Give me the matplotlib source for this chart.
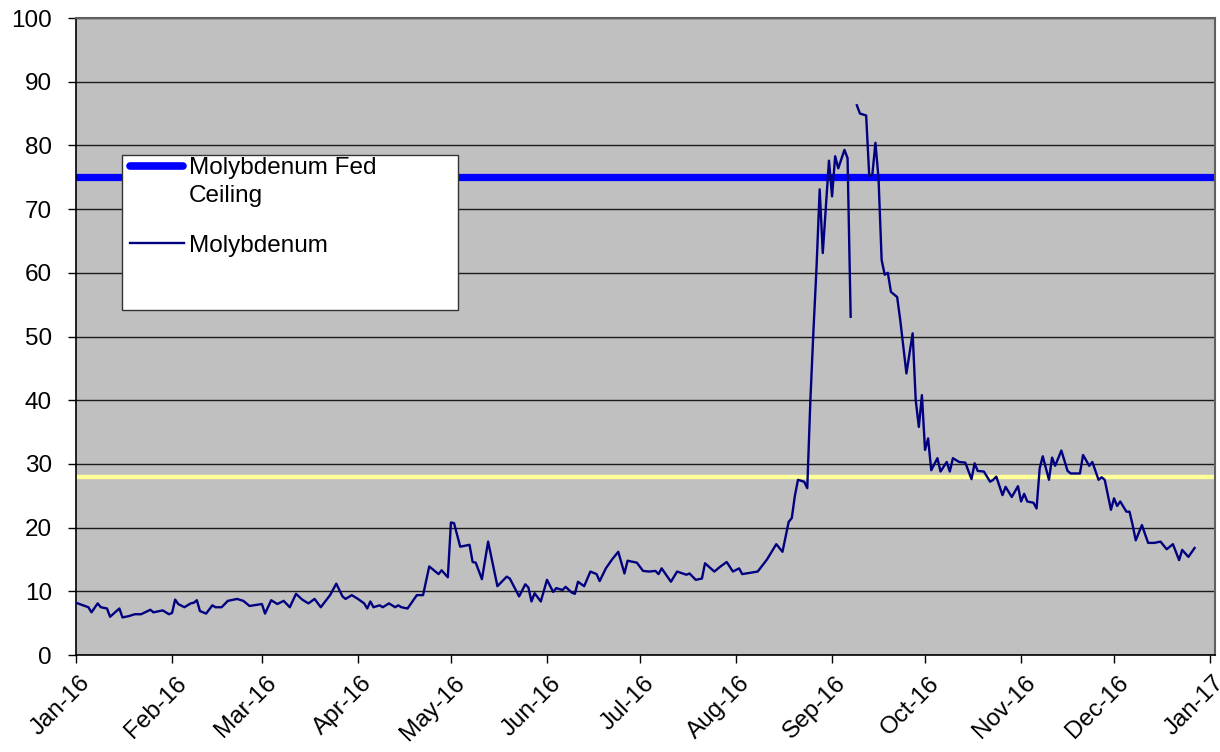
import matplotlib
matplotlib.use("Agg")
import matplotlib.pyplot as plt
import matplotlib.dates as mdates
import matplotlib.transforms as mtransforms
import numpy as np
import pandas as pd

plt.rcParams['font.family'] = ['Liberation Sans', 'DejaVu Sans']

# days since 2016-01-01 and molybdenum readings (NaN = gap in the record)
day_offset = [0, 2, 4, 5, 7, 8, 10, 11, 14, 15, 17, 19, 21, 24, 25, 28, 30, 31, 32, 33,
              35, 37, 38, 39, 40, 42, 44, 45, 47, 49, 52, 54, 56, 60, 61, 63, 65, 67, 69, 71,
              73, 75, 77, 79, 82, 84, 86, 87, 89, 91, 93, 94, 95, 96, 98, 99, 101, 103, 104, 105,
              107, 110, 112, 114, 117, 118, 120, 121, 122, 124, 127, 128, 129, 131, 133, 136, 139, 140, 143, 145,
              146, 147, 148, 150, 152, 154, 155, 157, 158, 160, 161, 162, 164, 166, 168, 169, 171, 173, 175, 177,
              178, 181, 183, 185, 187, 188, 189, 192, 194, 197, 198, 200, 202, 203, 206, 208, 210, 212, 214, 215,
              220, 223, 226, 228, 230, 231, 232, 233, 235, 236, 237, 238, 239, 240, 241, 243, 244, 245, 246, 248,
              249, 250, 251, 252, 253, 255, 256, 257, 258, 259, 260, 261, 262, 263, 265, 266, 267, 268, 270, 271,
              272, 273, 274, 275, 276, 278, 279, 281, 282, 283, 285, 287, 289, 290, 291, 293, 295, 296, 297, 299,
              300, 302, 304, 305, 306, 307, 309, 310, 311, 312, 314, 315, 316, 318, 320, 321, 324, 325, 327, 328,
              330, 331, 332, 334, 335, 336, 337, 339, 340, 341, 342, 344, 346, 348, 350, 352, 354, 356, 357, 359,
              361]
molybdenum = [8.2, 7.85, 7.5, 6.7, 8.1, 7.5, 7.3, 6.0, 7.3, 5.9, 6.1, 6.4, 6.4, 7.1, 6.7, 7.0, 6.4, 6.6, 8.7, 8.0,
              7.5, 8.1, 8.2, 8.6, 6.9, 6.5, 7.8, 7.5, 7.5, 8.5, 8.8, 8.5, 7.7, 8.0, 6.5, 8.6, 8.0, 8.5, 7.5, 9.6,
              8.7, 8.1, 8.8, 7.5, 9.4, 11.2, 9.2, 8.8, 9.4, 8.8, 8.1, 7.3, 8.4, 7.5, 7.8, 7.5, 8.1, 7.5, 7.8, 7.5,
              7.3, 9.4, 9.4, 13.9, 12.7, 13.3, 12.2, 20.8, 20.7, 17.0, 17.3, 14.6, 14.5, 11.9, 17.8, 10.8, 12.3, 12.0, 9.2, 11.1,
              10.6, 8.4, 9.7, 8.4, 11.8, 9.9, 10.5, 10.2, 10.7, 9.8, 9.6, 11.5, 10.8, 13.1, 12.7, 11.6, 13.6, 15.0, 16.2, 12.8,
              14.8, 14.5, 13.2, 13.1, 13.2, 12.7, 13.6, 11.5, 13.1, 12.6, 12.8, 11.8, 12.0, 14.4, 13.1, 13.9, 14.6, 13.1, 13.6, 12.7,
              13.1, 15.0, 17.4, 16.2, 20.9, 21.5, 25.0, 27.5, 27.2, 26.2, 40.0, 51.0, 61.0, 73.1, 63.1, 77.6, 72.0, 78.3, 76.4, 79.3,
              78.0, 53.1, np.nan, 86.3, 85.0, 84.7, 75.2, 75.4, 80.4, 74.8, 62.0, 59.7, 60.0, 57.0, 56.2, 52.6, 48.4, 44.2, 50.5, 40.0,
              35.8, 40.8, 32.2, 34.0, 29.0, 30.9, 28.8, 30.3, 28.8, 30.9, 30.3, 30.2, 27.6, 30.1, 28.9, 28.8, 27.2, 27.5, 28.0, 25.1,
              26.4, 24.8, 26.5, 24.1, 25.3, 24.1, 23.9, 23.0, 29.3, 31.2, 27.5, 31.0, 29.7, 32.1, 28.9, 28.5, 28.5, 31.4, 29.7, 30.3,
              27.5, 27.9, 27.5, 22.8, 24.6, 23.4, 24.1, 22.5, 22.5, 20.4, 18.0, 20.4, 17.6, 17.6, 17.8, 16.6, 17.4, 14.9, 16.5, 15.4,
              16.8]

fed_ceiling = 75
reference_level = 28

dates = pd.Timestamp("2016-01-01") + pd.to_timedelta(day_offset, unit="D")

FS = 17.5

fig = plt.figure(figsize=(12.2, 7.52), dpi=100)
ax = fig.add_axes([76 / 1220, 97 / 752, 1139 / 1220, 637 / 752])
ax.set_facecolor("#C0C0C0")

# horizontal reference lines
ax.axhline(reference_level, color="#FFFF99", lw=3.2, zorder=2)
ax.axhline(fed_ceiling, color="#0000FF", lw=5.2, zorder=2)

ax.plot(dates, molybdenum, color="#000080", lw=1.7, zorder=3)

ax.set_ylim(0, 100)
ax.set_yticks(np.arange(0, 101, 10))
ax.set_xlim(pd.Timestamp("2016-01-01"), pd.Timestamp("2017-01-02 14:00"))
ax.xaxis.set_major_locator(mdates.MonthLocator())
ax.xaxis.set_major_formatter(mdates.DateFormatter("%b-%y"))
ax.grid(axis="y", color="#1a1a1a", lw=1.0, zorder=1)
ax.set_axisbelow(True)

ax.tick_params(axis="both", direction="out", length=5.8, width=1, colors="black", labelsize=FS)
ax.tick_params(axis="y", pad=11.5)
ax.tick_params(axis="x", pad=6.5)
shift = mtransforms.ScaledTranslation(3 / 100, 0, fig.dpi_scale_trans)
for lbl in ax.get_xticklabels():
    lbl.set_rotation(45)
    lbl.set_ha("right")
    lbl.set_rotation_mode("anchor")
    lbl.set_transform(lbl.get_transform() + shift)

for side in ["left", "bottom"]:
    ax.spines[side].set_color("black")
    ax.spines[side].set_linewidth(1.2)
for side in ["top", "right"]:
    ax.spines[side].set_color("#606060")
    ax.spines[side].set_linewidth(1.5)

# legend box drawn by hand, matching the spreadsheet layout
def px(x, y):
    return ((x - 76) / 1139, (655 - y) / 637)

x0, y0 = px(122, 310)
x1, y1 = px(458, 155)
ax.add_patch(plt.Rectangle((x0, y0), x1 - x0, y1 - y0, transform=ax.transAxes,
                           facecolor="white", edgecolor="#333333", lw=1, zorder=6))
hx0, hy = px(130, 166)
hx1, _ = px(183, 166)
ax.plot([hx0, hx1], [hy, hy], transform=ax.transAxes, color="#0000FF", lw=5.5,
        solid_capstyle="round", zorder=7)
tx, _ = px(189, 0)
ax.text(tx, px(0, 174)[1], "Molybdenum Fed", transform=ax.transAxes, fontsize=FS,
        va="baseline", ha="left", zorder=7)
ax.text(tx, px(0, 201.5)[1], "Ceiling", transform=ax.transAxes, fontsize=FS,
        va="baseline", ha="left", zorder=7)
mx0, my = px(130, 243)
mx1, _ = px(184, 243)
ax.plot([mx0, mx1], [my, my], transform=ax.transAxes, color="#000080", lw=1.7, zorder=7)
ax.text(tx, px(0, 251.5)[1], "Molybdenum", transform=ax.transAxes, fontsize=FS,
        va="baseline", ha="left", zorder=7)

fig.savefig("out.png", dpi=100)
